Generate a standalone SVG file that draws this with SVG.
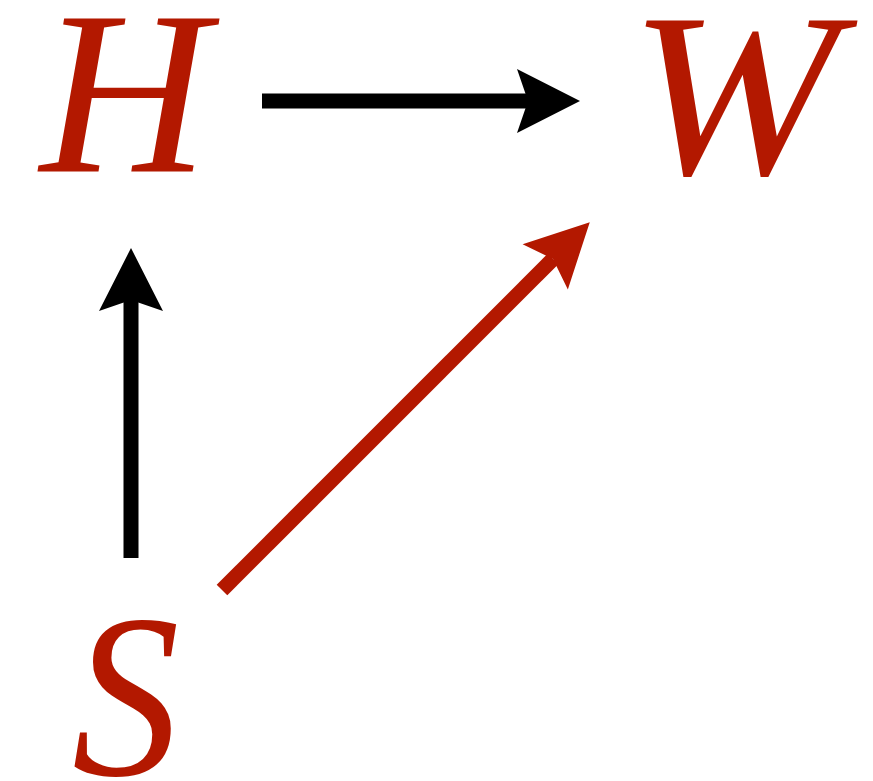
<svg xmlns="http://www.w3.org/2000/svg" width="873" height="781" viewBox="0 0 873 781">
<style>
.edge{stroke-width:15;fill:none;stroke-linecap:butt}
</style>
<defs>
<marker id="ahK" markerUnits="userSpaceOnUse" viewBox="-12 -33 66 66" refX="0" refY="0" markerWidth="66" markerHeight="66" orient="auto" overflow="visible"><path d="M52,0 L-11,-32 L0,0 L-11,32 Z" fill="#000"/></marker>
<marker id="ahR" markerUnits="userSpaceOnUse" viewBox="-12 -33 66 66" refX="0" refY="0" markerWidth="66" markerHeight="66" orient="auto" overflow="visible"><path d="M52,0 L-11,-32 L0,0 L-11,32 Z" fill="#B31800"/></marker>
</defs>
<g id="connectors">
<line class="edge" x1="262" y1="101" x2="528" y2="101" stroke="#000" marker-end="url(#ahK)"/>
<line class="edge" x1="131" y1="558" x2="131" y2="300" stroke="#000" marker-end="url(#ahK)"/>
<line class="edge" x1="222" y1="590" x2="553" y2="259" stroke="#B31800" marker-end="url(#ahR)"/>
</g>
<g font-family="Liberation Serif" font-style="italic" font-size="234" fill="#B31800">
<g id="H"><text x="40" y="172">H</text></g>
<g id="W"><text transform="translate(629,173) scale(1.075,1)">W</text></g>
<g id="S"><text transform="translate(72,775) scale(0.92,1)">S</text></g>
</g>
</svg>
